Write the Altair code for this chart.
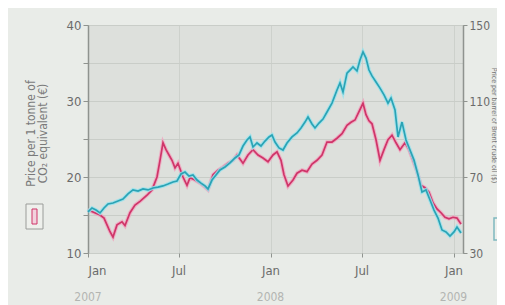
import altair as alt
import pandas as pd

# Carbon price (EUR per tonne CO2 equivalent), left axis
carbon_dates = [
    "2007-01-01", "2007-01-11", "2007-01-25", "2007-02-02", "2007-02-08", "2007-02-14",
    "2007-02-20", "2007-02-28", "2007-03-10", "2007-03-16", "2007-03-26", "2007-04-05",
    "2007-04-15", "2007-04-29", "2007-05-09", "2007-05-19", "2007-05-25", "2007-05-31",
    "2007-06-06", "2007-06-12", "2007-06-18", "2007-06-24", "2007-06-30", "2007-07-10",
    "2007-07-18", "2007-07-24", "2007-08-03", "2007-08-13", "2007-08-21", "2007-08-29",
    "2007-09-08", "2007-09-18", "2007-09-28", "2007-10-08", "2007-10-18", "2007-10-26",
    "2007-11-07", "2007-11-17", "2007-11-27", "2007-12-07", "2007-12-17", "2007-12-27",
    "2008-01-06", "2008-01-14", "2008-01-22", "2008-01-28", "2008-02-05", "2008-02-15",
    "2008-02-23", "2008-03-04", "2008-03-14", "2008-03-24", "2008-04-03", "2008-04-13",
    "2008-04-23", "2008-05-03", "2008-05-13", "2008-05-23", "2008-06-02", "2008-06-10",
    "2008-06-18", "2008-06-26", "2008-07-04", "2008-07-10", "2008-07-16", "2008-07-22",
    "2008-07-30", "2008-08-07", "2008-08-15", "2008-08-23", "2008-08-31", "2008-09-08",
    "2008-09-16", "2008-09-26", "2008-10-04", "2008-10-12", "2008-10-20", "2008-10-28",
    "2008-11-05", "2008-11-13", "2008-11-21", "2008-11-29", "2008-12-07", "2008-12-15",
    "2008-12-23", "2008-12-31", "2009-01-08", "2009-01-16",
]
carbon_values = [
    15.7, 15.4, 15.0, 14.6, 13.7, 12.8,
    12.1, 13.7, 14.1, 13.6, 15.3, 16.3,
    16.8, 17.6, 18.3, 20.0, 22.2, 24.5,
    23.6, 22.9, 22.2, 21.2, 21.8, 20.0,
    18.9, 19.9, 19.6, 19.2, 18.8, 18.3,
    20.3, 20.9, 21.3, 21.8, 22.2, 22.9,
    21.8, 22.9, 23.6, 22.9, 22.5, 22.0,
    22.9, 23.3, 22.2, 20.3, 18.8, 19.6,
    20.5, 20.9, 20.7, 21.7, 22.2, 22.9,
    24.6, 24.6, 25.1, 25.7, 26.8, 27.2,
    27.5, 28.6, 29.7, 28.2, 27.4, 27.0,
    24.9, 22.2, 23.6, 24.9, 25.5, 24.5,
    23.6, 24.5, 23.6, 22.2, 20.7, 18.9,
    18.6, 18.0, 16.6, 15.8, 15.3, 14.7,
    14.5, 14.7, 14.6, 13.8,
]

# Oil price, right axis
oil_dates = [
    "2007-01-01", "2007-01-09", "2007-01-17", "2007-01-25", "2007-02-02", "2007-02-10",
    "2007-02-20", "2007-03-02", "2007-03-12", "2007-03-22", "2007-04-01", "2007-04-11",
    "2007-04-21", "2007-05-01", "2007-05-11", "2007-05-21", "2007-05-31", "2007-06-10",
    "2007-06-20", "2007-06-28", "2007-07-06", "2007-07-14", "2007-07-22", "2007-07-30",
    "2007-08-07", "2007-08-15", "2007-08-23", "2007-08-29", "2007-09-06", "2007-09-14",
    "2007-09-22", "2007-10-02", "2007-10-12", "2007-10-22", "2007-10-30", "2007-11-07",
    "2007-11-15", "2007-11-21", "2007-11-27", "2007-12-05", "2007-12-13", "2007-12-21",
    "2007-12-29", "2008-01-04", "2008-01-10", "2008-01-18", "2008-01-26", "2008-02-03",
    "2008-02-13", "2008-02-23", "2008-03-02", "2008-03-10", "2008-03-16", "2008-03-24",
    "2008-03-30", "2008-04-07", "2008-04-15", "2008-04-23", "2008-05-03", "2008-05-13",
    "2008-05-19", "2008-05-25", "2008-06-02", "2008-06-08", "2008-06-14", "2008-06-22",
    "2008-06-28", "2008-07-04", "2008-07-10", "2008-07-16", "2008-07-22", "2008-07-30",
    "2008-08-07", "2008-08-15", "2008-08-23", "2008-08-29", "2008-09-06", "2008-09-12",
    "2008-09-20", "2008-09-28", "2008-10-06", "2008-10-14", "2008-10-22", "2008-10-30",
    "2008-11-07", "2008-11-15", "2008-11-23", "2008-12-01", "2008-12-09", "2008-12-17",
    "2008-12-25", "2009-01-02", "2009-01-08", "2009-01-16",
]
oil_values = [
    51.6, 53.7, 52.6, 51.1, 53.7, 55.8,
    56.3, 57.4, 58.4, 61.1, 63.2, 62.6,
    63.7, 63.2, 64.2, 64.7, 65.3, 66.3,
    67.4, 67.9, 71.6, 72.6, 70.5, 71.1,
    68.4, 66.8, 65.3, 63.7, 68.4, 71.1,
    73.7, 75.3, 77.4, 80.0, 81.6, 86.3,
    89.5, 91.1, 85.8, 87.9, 86.3, 88.9,
    91.1, 92.1, 88.4, 85.3, 84.2, 87.9,
    91.1, 93.2, 95.8, 98.9, 101.6, 97.9,
    95.8, 98.4, 100.5, 104.2, 108.9, 115.8,
    119.5, 114.7, 124.7, 126.3, 127.9, 125.8,
    131.6, 135.8, 132.6, 126.3, 123.2, 120.0,
    116.8, 113.2, 108.9, 111.6, 105.3, 91.1,
    98.9, 89.5, 84.2, 78.9, 71.1, 62.1,
    63.2, 57.9, 52.6, 48.4, 42.1, 41.1,
    38.9, 41.1, 43.7, 40.5,
]

year_dates = ["2007-01-01", "2008-01-01", "2009-01-01"]
year_labels = ["2007", "2008", "2009"]

left_ticks = [10, 15, 20, 25, 30, 35, 40]
right_ticks = [30, 70, 110, 150]
x_tick_dates = ["2007-01-01", "2007-07-01", "2008-01-01", "2008-07-01", "2009-01-01"]

FONT = "Liberation Sans Narrow, DejaVu Sans Condensed, Roboto, sans-serif"
PINK = "#cf3569"
PINK_HALO = "#f0a6bf"
CYAN = "#2aa3b5"
CYAN_HALO = "#98e2ec"
W, H = 375, 228

carbon = pd.DataFrame({"date": pd.to_datetime(carbon_dates), "price": carbon_values})
oil = pd.DataFrame({"date": pd.to_datetime(oil_dates), "price": oil_values})
years = pd.DataFrame({"date": pd.to_datetime(year_dates), "label": year_labels})

def dt(s):
    y, m, d = (int(p) for p in s.split("-"))
    return alt.DateTime(year=y, month=m, date=d, utc=True)

xscale = alt.Scale(domain=[dt("2007-01-01"), dt("2009-01-20")])
xaxis = alt.Axis(
    values=[dt(s) for s in x_tick_dates],
    labelExpr="utcFormat(datum.value, '%b')",
    title=None, grid=True, gridColor="#cdd1cc", gridWidth=1,
    domain=False, tickColor="#8f938f", tickSize=4,
    labelColor="#6b6b6b", labelFont=FONT, labelFontSize=13, labelPadding=7,
)
xenc = alt.X("date:T", scale=xscale, axis=xaxis)

left_axis = alt.Axis(
    values=left_ticks,
    labelExpr="datum.value % 10 == 0 ? datum.label : ''",
    grid=True, gridColor="#c9cdc8", gridWidth=1,
    domainColor="#8f938f", domainWidth=1.5,
    tickColor="#8f938f", tickSize=5,
    labelColor="#6b6b6b", labelFont=FONT, labelFontSize=13, labelPadding=2,
    title=["Price per 1 tonne of", "CO\u2082 equivalent (\u20ac)"],
    titleFont=FONT, titleFontSize=12, titleFontWeight="normal", titleColor="#7a7a7a",
    titleAngle=-90, titleAlign="center", titleBaseline="bottom",
    titleX=-51, titleY=108, titleLineHeight=12,
)
right_axis = alt.Axis(
    values=right_ticks, orient="right", grid=False,
    domainColor="#8f938f", domainWidth=1.5,
    tickColor="#8f938f", tickSize=4,
    labelColor="#6b6b6b", labelFont=FONT, labelFontSize=12, labelPadding=2,
    title="Price per barrel of Brent crude oil ($)",
    titleFont=FONT, titleFontSize=7, titleFontWeight="normal", titleColor="#7a7a7a",
    titleAngle=90, titleAlign="center", titleBaseline="bottom",
    titleX=27.5, titleY=100,
)

yleft = alt.Y("price:Q", scale=alt.Scale(domain=[10, 40], nice=False, zero=False), axis=left_axis)
yright = alt.Y("price:Q", scale=alt.Scale(domain=[30, 150], nice=False, zero=False), axis=right_axis)

pink_halo = alt.Chart(carbon).mark_line(color=PINK_HALO, strokeWidth=3.8, opacity=0.85).encode(x=xenc, y=yleft)
pink_line = alt.Chart(carbon).mark_line(color=PINK, strokeWidth=1.7).encode(x=xenc, y=yleft)
left_layer = alt.layer(pink_halo, pink_line)

cyan_halo = alt.Chart(oil).mark_line(color=CYAN_HALO, strokeWidth=3.8, opacity=0.85).encode(x=xenc, y=yright)
cyan_line = alt.Chart(oil).mark_line(color=CYAN, strokeWidth=1.7).encode(x=xenc, y=yright)
right_layer = alt.layer(cyan_halo, cyan_line)

year_text = alt.Chart(years).mark_text(
    font=FONT, fontSize=12, color="#b3b5b2", baseline="middle", align="center"
).encode(x=xenc, y=alt.value(H + 44), text="label:N")

box_df = pd.DataFrame({"k": [0]})
left_box = alt.Chart(box_df).mark_rect(fill="#eef0ec", stroke="#9a9c99", strokeWidth=1).encode(
    x=alt.value(-62), x2=alt.value(-45), y=alt.value(179), y2=alt.value(204))
left_box_in = alt.Chart(box_df).mark_rect(fill="#f2d2dd", stroke=PINK, strokeWidth=1).encode(
    x=alt.value(-56), x2=alt.value(-51), y=alt.value(184), y2=alt.value(199))
right_box = alt.Chart(box_df).mark_rect(fill="#eef0ec", stroke="#7fb8bf", strokeWidth=1.5).encode(
    x=alt.value(W + 31), x2=alt.value(W + 46), y=alt.value(193), y2=alt.value(215))

chart = alt.layer(
    left_layer, right_layer, year_text, left_box, left_box_in, right_box
).resolve_scale(y="independent").properties(
    width=W, height=H,
    autosize="none",
    padding={"left": 80, "top": 17, "right": 34, "bottom": 52},
    background="#e9ece8",
).configure_view(fill="#dde0dc", stroke="#8f938f", strokeWidth=1)

chart.save("out.html", embed_options={"renderer": "svg", "actions": False})
